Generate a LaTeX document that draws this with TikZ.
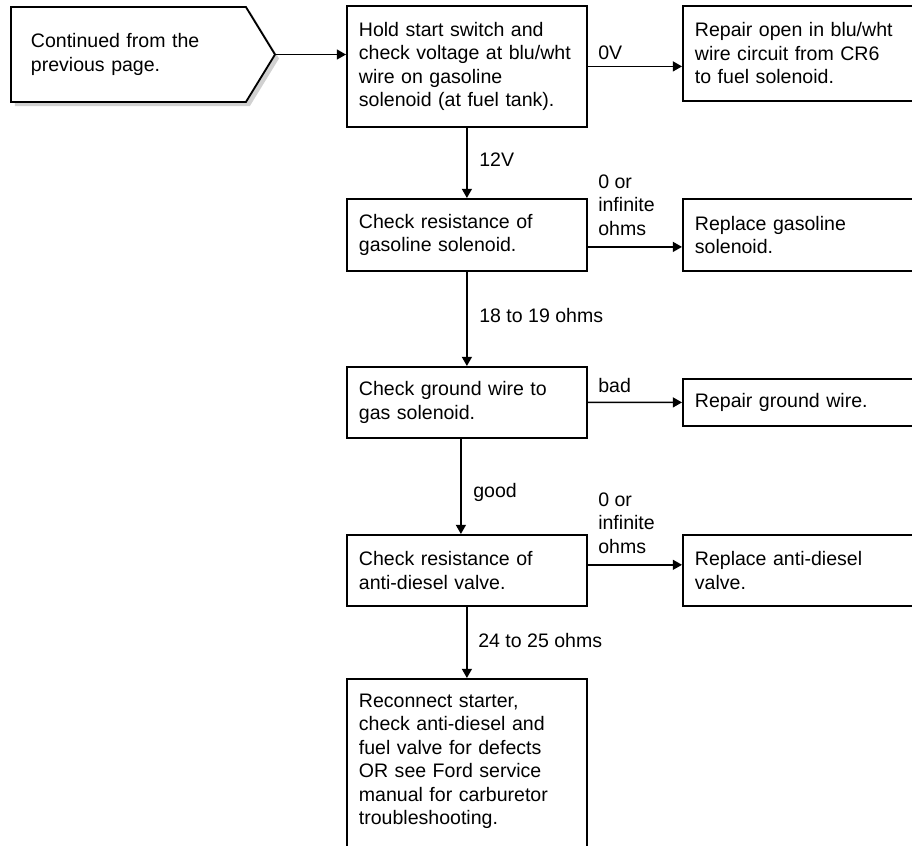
\documentclass[tikz,border=0pt]{standalone}
\usepackage{fontspec}
\setmainfont{Liberation Sans}
\usetikzlibrary{arrows.meta,shapes.symbols,shadows}

\begin{document}
\begin{tikzpicture}[
  box/.style={draw, line width=1.3pt, anchor=north west, text width=5.4cm,
    align=left, inner xsep=0.3cm, inner ysep=0.3cm},
  lbl/.style={anchor=west, inner sep=0pt, align=left},
  flow/.style={line width=1.1pt, -{Triangle[length=0.23cm,width=0.25cm]}},
  font=\fontsize{13.9pt}{16.7pt}\selectfont
]
  \useasboundingbox (0,0) rectangle (22.8,-21.125);
  \clip (0,0) rectangle (22.8,-21.125);

  % entry from the previous page
  \node (cont) [draw, line width=1.3pt, fill=white, signal, signal to=east,
    signal pointer angle=117, text width=4.875cm, align=left, inner xsep=0.5cm,
    minimum height=2.375cm, anchor=west,
    drop shadow={shadow xshift=0.1cm, shadow yshift=-0.1cm, fill=black!18, opacity=1}]
    at (0.25,-1.3625) {Continued from the\\previous page.};

  % main column
  \node (hold) [box, minimum height=3.025cm] at (8.65,-0.125)
    {Hold start switch and\\check voltage at blu/wht\\wire on gasoline\\solenoid (at fuel tank).};
  \node (gasres) [box, minimum height=1.8cm] at (8.65,-4.95)
    {Check resistance of\\gasoline solenoid.};
  \node (gnd) [box, minimum height=1.775cm] at (8.65,-9.15)
    {Check ground wire to\\gas solenoid.};
  \node (adres) [box, minimum height=1.775cm] at (8.65,-13.35)
    {Check resistance of\\anti-diesel valve.};
  \node (final) [box, inner ysep=0.375cm, text depth=4cm] at (8.65,-16.95)
    {Reconnect starter,\\check anti-diesel and\\fuel valve for defects\\OR see Ford service\\manual for carburetor\\troubleshooting.};

  % repairs on the right
  \node (openfix) [box, minimum height=2.375cm] at (17.05,-0.125)
    {Repair open in blu/wht\\wire circuit from CR6\\to fuel solenoid.};
  \node (gasnew) [box, minimum height=1.8cm] at (17.05,-4.95)
    {Replace gasoline\\solenoid.};
  \node (gndfix) [box, minimum height=1.175cm] at (17.05,-9.45)
    {Repair ground wire.};
  \node (adnew) [box, minimum height=1.775cm] at (17.05,-13.35)
    {Replace anti-diesel\\valve.};

  \draw[flow] (cont.east) -- (cont.east -| hold.west);
  \draw[flow] (hold.east) -- (hold.east -| openfix.west);
  \draw[flow] (hold.south) -- (gasres.north);
  \draw[flow] ([yshift=-0.3cm]gasres.east) -- ([yshift=-0.3cm]gasres.east -| gasnew.west);
  \draw[flow] (gasres.south) -- (gnd.north);
  \draw[flow] (gnd.east) -- (gndfix.west);
  \draw[flow] ([xshift=-0.15cm]gnd.south) -- ([xshift=-0.15cm]gnd.south |- adres.north);
  \draw[flow] ([yshift=0.14cm]adres.east) -- ([yshift=0.14cm]adres.east -| adnew.west);
  \draw[flow] (adres.south) -- (final.north);

  % readings
  \node[lbl] (v0) at (14.95,-1.325) {0V};
  \node[lbl] (v12) at (11.975,-4.0) {12V};
  \node[lbl] (gasopen) at (14.95,-5.125) {0 or\\infinite\\ohms};
  \node[lbl] (gasok) at (11.975,-7.9) {18 to 19 ohms};
  \node[lbl] (gndbad) at (14.95,-9.65) {bad};
  \node[lbl] (gndgood) at (11.825,-12.3) {good};
  \node[lbl] (adopen) at (14.95,-13.075) {0 or\\infinite\\ohms};
  \node[lbl] (adok) at (11.95,-16.025) {24 to 25 ohms};
\end{tikzpicture}
\end{document}
